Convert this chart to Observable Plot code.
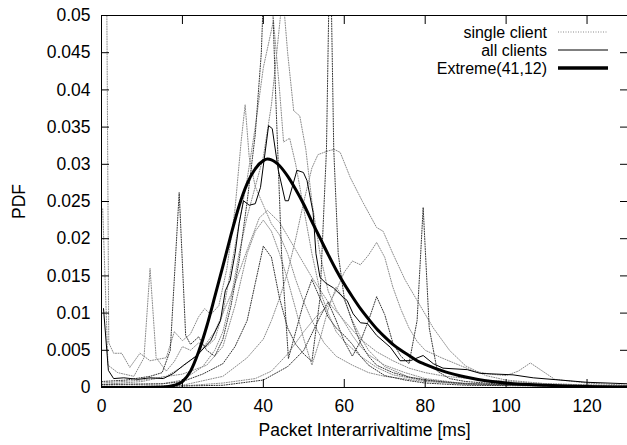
<!DOCTYPE html>
<html><head><meta charset="utf-8">
<script src="https://cdn.jsdelivr.net/npm/d3@7"></script>
<script src="https://cdn.jsdelivr.net/npm/@observablehq/plot@0.6"></script>
<style>
body{margin:0;background:#fff}
#wrap{position:relative;width:627px;height:445px}
</style></head><body><div id="wrap"></div>
<script>
// single-client PDFs, [ms, pdf]
const clientA = [[1.2,0.062],[1.8,0.006],[3,0.0046],[5,0.0046],[7,0.0027],[9.5,0.0046],[12,0.0036],[14,0.0038],[16,0.004],[18,0.0075],[20,0.0063],[22,0.0072],[24,0.0095],[25.5,0.0106],[27,0.0098],[29,0.011],[31,0.016],[33,0.024],[34.5,0.033],[35.5,0.038],[36.5,0.031],[38,0.027],[40,0.0245],[42,0.022],[44,0.0205],[46,0.018],[48,0.0145],[50,0.0115],[52,0.009],[55,0.006],[58,0.0042],[62,0.003],[66,0.002],[70,0.0015],[80,0.0008],[100,0.0003],[130,0.0001]];
const clientB = [[0.3,0.024],[1.6,0.003],[4,0.002],[8,0.0015],[10.5,0.004],[12,0.016],[13.5,0.004],[16,0.0022],[18,0.0035],[20,0.0055],[22,0.005],[24,0.006],[26,0.0055],[28,0.0065],[30,0.01],[32,0.016],[34,0.022],[36,0.028],[38,0.035],[40,0.043],[42.5,0.0493],[44,0.04],[45,0.033],[46.5,0.0335],[48,0.03],[50,0.024],[52,0.018],[54,0.013],[56,0.01],[58,0.0075],[60,0.0062],[64,0.0042],[68,0.0027],[72,0.0017],[80,0.0009],[90,0.0004],[110,0.0002],[130,0.0001]];
const clientC = [[0,0.0008],[6,0.001],[12,0.0015],[15,0.002],[17,0.005],[19.2,0.0262],[20.8,0.007],[22,0.0058],[24,0.0068],[26,0.005],[28,0.0042],[30,0.0065],[32,0.011],[34,0.017],[36,0.025],[38,0.034],[39.5,0.045],[40.5,0.06],[41.8,0.06],[43,0.04],[44.5,0.018],[46.2,0.0039],[48,0.0075],[50,0.0115],[52,0.0145],[54,0.012],[56,0.0095],[58,0.008],[60,0.007],[62,0.0058],[64,0.0042],[66,0.003],[70,0.0016],[75,0.001],[80,0.0006],[90,0.0003],[130,0.0001]];
const clientD = [[0,0.0004],[15,0.0005],[20,0.0008],[25,0.0018],[30,0.0032],[33,0.0055],[36,0.009],[38,0.014],[40,0.019],[42,0.0175],[44,0.012],[46,0.008],[48,0.0058],[50,0.0045],[52,0.0035],[54,0.012],[55.6,0.032],[56.5,0.062],[57.4,0.032],[58.5,0.018],[60,0.012],[62,0.0088],[64,0.006],[66,0.0042],[68,0.003],[72,0.002],[76,0.0014],[80,0.001],[90,0.0005],[130,0.0001]];
const clientE = [[0,0.0001],[20,0.0003],[30,0.0015],[36,0.004],[40,0.0065],[42,0.009],[44,0.012],[46,0.0155],[48,0.02],[50,0.025],[52,0.0295],[53.5,0.0313],[56,0.0318],[57.5,0.032],[59,0.0316],[61.5,0.0282],[64.5,0.025],[66,0.0235],[68,0.0215],[69.6,0.021],[72,0.018],[75,0.0145],[78,0.0117],[82,0.008],[86,0.005],[90,0.0029],[95,0.0016],[100,0.001],[110,0.0005],[130,0.0002]];
const clientF = [[0,0.0003],[15,0.0005],[20,0.001],[25,0.0028],[28,0.005],[30,0.0075],[32,0.012],[34,0.018],[36,0.023],[38,0.027],[40,0.031],[42,0.038],[43.5,0.046],[44.8,0.053],[46,0.045],[47.5,0.0372],[49,0.0365],[50.5,0.032],[52,0.025],[54,0.018],[56,0.013],[58,0.0105],[60,0.0088],[62,0.007],[64,0.0055],[66,0.0044],[70,0.003],[75,0.002],[80,0.0012],[90,0.0005],[130,0.0001]];
const clientG = [[0,0.0004],[10,0.0008],[16,0.0015],[20,0.0028],[24,0.0045],[28,0.0075],[32,0.0125],[36,0.0185],[39,0.0228],[41,0.0238],[44,0.0222],[48,0.0185],[52,0.0148],[56,0.0115],[60,0.009],[64,0.0065],[68,0.0048],[72,0.0036],[76,0.0026],[80,0.002],[85,0.0015],[95,0.001],[110,0.0005],[130,0.0002]];
const clientH = [[0,0],[20,0.0002],[30,0.0006],[38,0.0012],[42,0.0022],[46,0.0045],[50,0.0075],[53,0.0095],[56,0.011],[58,0.013],[60,0.0155],[62,0.017],[64,0.0165],[66,0.0178],[68,0.0195],[70,0.0175],[72,0.0135],[74,0.0105],[76,0.008],[78,0.0062],[80,0.005],[84,0.004],[88,0.0031],[92,0.0022],[96,0.0018],[100,0.0016],[103,0.0022],[106,0.0033],[109,0.0022],[112,0.0011],[120,0.0006],[130,0.0003]];
const clientI = [[0,0],[30,0.0003],[40,0.001],[46,0.0028],[50,0.005],[54,0.0095],[56,0.0115],[58,0.009],[60,0.0062],[62,0.0042],[64,0.0062],[66,0.009],[68,0.0122],[70,0.0098],[72,0.006],[74,0.0042],[76,0.0032],[78,0.009],[79.5,0.0242],[81,0.008],[83,0.0022],[86,0.0012],[90,0.0008],[100,0.0004],[130,0.0001]];
const clientJ = [[0,0.0006],[10,0.001],[20,0.0018],[26,0.003],[30,0.0055],[33,0.011],[36,0.018],[38,0.021],[40,0.0225],[42,0.021],[44,0.018],[46,0.0145],[48,0.0105],[50,0.0065],[52,0.003],[54,0.0065],[56,0.0105],[58,0.0135],[60,0.0118],[62,0.009],[64,0.0068],[66,0.005],[70,0.0028],[76,0.0014],[85,0.0007],[100,0.0003],[130,0.0001]];

// all clients combined
const allClients = [[0.5,0.0106],[1.7,0.0023],[3,0.0012],[5.5,0.0013],[9,0.0011],[12,0.0013],[15.3,0.0012],[17.8,0.0019],[20.3,0.003],[23.6,0.0043],[27,0.0063],[29.4,0.009],[30.6,0.013],[31.8,0.0144],[33,0.018],[34,0.022],[35.1,0.0251],[36.5,0.0245],[38,0.0247],[39.3,0.0269],[41.3,0.0352],[42.2,0.0348],[43.7,0.0292],[45.4,0.0251],[46.2,0.0251],[48.3,0.0292],[49.9,0.0289],[50.8,0.0278],[52.3,0.0235],[53,0.018],[54,0.0148],[55.5,0.014],[57.3,0.0134],[59.8,0.0121],[60.7,0.0117],[62.2,0.0099],[64,0.0087],[65.7,0.0086],[68,0.007],[71.4,0.0054],[73.8,0.0036],[76.3,0.0036],[79.5,0.0043],[82,0.0032],[84.4,0.0026],[90.4,0.0024],[93.6,0.0019],[101.7,0.0017],[106.7,0.0013],[120,0.0007],[130,0.0005]];

// fitted Extreme(41,12) curve
const extremeX = [0,10,14,16,18,20,22,24,26,28,30,32,34,36,38,40,41,42,44,46,48,50,52,54,56,58,60,62,64,66,68,70,72,74,76,78,80,85,90,95,100,110,120,130];
const extremeY = [0,0,0.00002,0.0001,0.0003,0.0008,0.0022,0.0048,0.0082,0.0122,0.0163,0.0205,0.0244,0.0274,0.0294,0.0305,0.0307,0.0306,0.0298,0.0284,0.0266,0.0246,0.0223,0.0201,0.0179,0.0158,0.0139,0.0122,0.0106,0.0092,0.0079,0.0068,0.0058,0.005,0.0043,0.0036,0.0031,0.0021,0.0014,0.0009,0.0006,0.0003,0.00012,0.00005];

const xTicks = [0,20,40,60,80,100,120];
const yTicks = [0,0.005,0.01,0.015,0.02,0.025,0.03,0.035,0.04,0.045,0.05];
const legendLabels = ["single client","all clients","Extreme(41,12)"];
const xLabel = "Packet Interarrivaltime [ms]";
const yLabel = "PDF";

const graySingles = [clientA, clientB, clientE, clientF, clientG, clientH, clientJ];
const darkSingles = [clientC, clientD, clientI];
const toRows = arr => arr.flatMap((s, i) => s.map(([x, y]) => ({id: i, x, y})));
const grayRows = toRows(graySingles);
const darkRows = toRows(darkSingles);
const allRows = allClients.map(([x, y]) => ({x, y}));
const extremeRows = extremeX.map((x, i) => ({x, y: extremeY[i]}));

const FONT = '"Liberation Sans", Arial, Helvetica, sans-serif';
const blank = () => "";

const plot = Plot.plot({
  width: 627, height: 445,
  marginLeft: 101, marginRight: 0, marginTop: 15, marginBottom: 58,
  style: {fontFamily: FONT, fontSize: "17.5px", background: "white", color: "black"},
  x: {domain: [0, 130]},
  y: {domain: [0, 0.05]},
  marks: [
    Plot.line(grayRows, {x: "x", y: "y", z: "id", stroke: "#8a8a8a", strokeWidth: 1, strokeDasharray: "1,1.5", clip: true}),
    Plot.line(darkRows, {x: "x", y: "y", z: "id", stroke: "#333", strokeWidth: 1, strokeDasharray: "1,1.5", clip: true}),
    Plot.line(allRows, {x: "x", y: "y", stroke: "black", strokeWidth: 1, clip: true}),
    Plot.line(extremeRows, {x: "x", y: "y", stroke: "black", strokeWidth: 3, curve: "monotone-x", clip: true}),
    Plot.frame({stroke: "black", strokeWidth: 1}),
    Plot.axisX({ticks: xTicks, tickSize: 0, tickPadding: 12, label: xLabel, labelAnchor: "center", labelArrow: "none", labelOffset: 48}),
    Plot.axisX({ticks: xTicks, tickSize: -8, tickFormat: blank, label: null}),
    Plot.axisX({anchor: "top", ticks: xTicks, tickSize: -8, tickFormat: blank, label: null}),
    Plot.axisY({ticks: yTicks, tickSize: 0, tickPadding: 11, tickFormat: d => String(d), label: yLabel, labelAnchor: "center", labelArrow: "none", labelOffset: 89}),
    Plot.axisY({ticks: yTicks, tickSize: -8, tickFormat: blank, label: null}),
    Plot.axisY({anchor: "right", ticks: yTicks, tickSize: -8, tickFormat: blank, label: null})
  ]
});
document.getElementById("wrap").appendChild(plot);

// legend inside the plot, top right
const svg = d3.select(plot);
const lg = svg.append("g").attr("font-family", FONT).attr("font-size", "16px");
const legendStyles = [
  {stroke: "#8a8a8a", width: 1, dash: "1,1.5"},
  {stroke: "black", width: 1, dash: null},
  {stroke: "black", width: 3.5, dash: null}
];
legendLabels.forEach((t, i) => {
  const cy = 32 + i * 18;
  lg.append("text").attr("x", 547).attr("y", cy).attr("dy", "0.35em").attr("text-anchor", "end").attr("fill", "black").attr("textLength", null).text(t);
  const ln = lg.append("line").attr("x1", 558).attr("x2", 608).attr("y1", cy).attr("y2", cy)
    .attr("stroke", legendStyles[i].stroke).attr("stroke-width", legendStyles[i].width);
  if (legendStyles[i].dash) ln.attr("stroke-dasharray", legendStyles[i].dash);
});
</script></body></html>
